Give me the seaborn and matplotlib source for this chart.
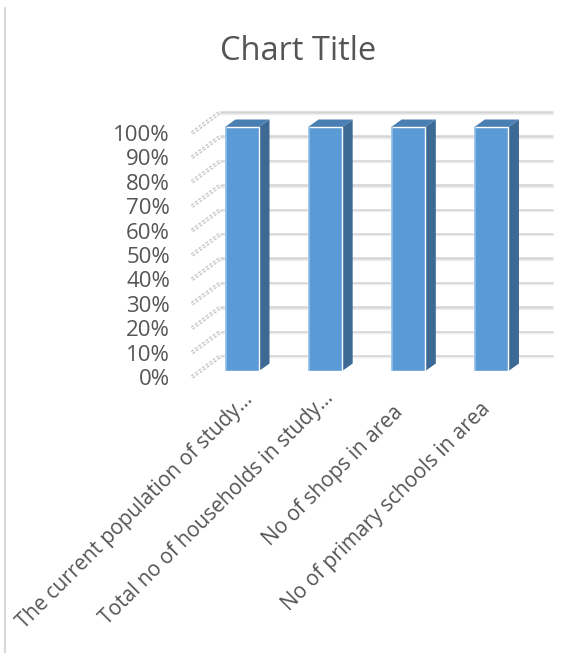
import numpy as np
import pandas as pd
import seaborn as sns
import matplotlib.pyplot as plt
from matplotlib.patches import Polygon
from matplotlib.lines import Line2D
from matplotlib.collections import LineCollection
from matplotlib.transforms import IdentityTransform, blended_transform_factory, offset_copy

# ---- data -------------------------------------------------------------
categories = [
    "The current population of study\u2026",
    "Total no of households in study\u2026",
    "No of shops in area",
    "No of primary schools in area",
]
values = [1.0, 1.0, 1.0, 1.0]
tick_values = [0.0, 0.1, 0.2, 0.3, 0.4, 0.5, 0.6, 0.7, 0.8, 0.9, 1.0]
tick_labels = ["0%", "10%", "20%", "30%", "40%", "50%", "60%", "70%", "80%", "90%", "100%"]
title = "Chart Title"

# ---- style ------------------------------------------------------------
sns.set_theme(style="white")
plt.rcParams["font.family"] = ["Open Sans", "DejaVu Sans"]
TEXT = "#555555"
FRONT = "#5B9BD5"
SIDE = "#3C6A94"
TOP = "#4A7FB4"
GRID = "#D4D4D4"

W, H = 586, 653
fig = plt.figure(figsize=(W / 100, H / 100), dpi=100)
fig.patch.set_facecolor("white")


def rect(left, top, right, bottom):
    return [left / W, 1 - bottom / H, (right - left) / W, (bottom - top) / H]


# plane of the column fronts, and the front edge of the floor
ax = fig.add_axes(rect(200.4, 127, 533, 371))
ax_front = fig.add_axes(rect(192, 133, 524.6, 377), zorder=-1)

# depth of the back wall and of each column, in pixels
WALL_DX, WALL_DY = 20.0, 15.0
COL_DX, COL_DY = 10.5, 7.5
# where each rotated category label ends, relative to its column (pixels)
LABEL_SHIFT = [(0, -18), (-2, -16), (-16, -31), (-11.5, -28)]

df = pd.DataFrame({"category": categories, "value": values})
sns.barplot(data=df, x="category", y="value", ax=ax, color=FRONT,
            saturation=1, width=0.41, zorder=3)
ax.set_xlim(-0.5, len(categories) - 0.5)
ax.set_ylim(0, 1)
ax.set_facecolor("none")
sns.despine(ax=ax, left=True, bottom=True)
ax.set_yticks([])
ax.set_xticks([])
ax.set_xlabel("")
ax.set_ylabel("")

# value axis lives on the floor's front edge
ax_front.set_xlim(-0.5, len(categories) - 0.5)
ax_front.set_ylim(0, 1)
ax_front.set_yticks(tick_values, tick_labels)
ax_front.set_xticks([])
ax_front.tick_params(axis="y", length=0, pad=15.8, labelsize=16, labelcolor=TEXT)
ax_front.set_facecolor("none")
for s in ax_front.spines.values():
    s.set_visible(False)

# back-wall gridlines
wall_t = offset_copy(blended_transform_factory(ax.transAxes, ax.transData),
                     fig, x=WALL_DX, y=WALL_DY, units="dots")
ax.hlines(tick_values, 0, 1, transform=wall_t, colors=GRID, lw=1.8,
          zorder=0, clip_on=False)
ax.hlines(tick_values, 0, 1, transform=offset_copy(wall_t, fig, y=-1.5, units="dots"),
          colors="#EDEDED", lw=1.0, zorder=0, clip_on=False)

# side-wall hatch: front floor edge up to the back wall
segs = []
for v in tick_values:
    x0, y0 = ax_front.transData.transform((-0.5, v))
    x1, y1 = ax.transData.transform((-0.5, v))
    x1 += WALL_DX
    y1 += WALL_DY
    segs.append([(x0, y0), (x1, y1)])
fig.add_artist(LineCollection(segs, transform=IdentityTransform(), colors="#C8C8C8",
                              linewidths=2.8, linestyles=[(0, (0.7, 0.45))], zorder=0))
fig.add_artist(LineCollection(segs, transform=IdentityTransform(), colors="white",
                              linewidths=0.7, zorder=0))

# 3-D faces of each column
px_x = ax.bbox.width / (len(categories))
px_y = ax.bbox.height / 1.0
dx, dy = COL_DX / px_x, COL_DY / px_y
for p in ax.patches:
    x0, w, h = p.get_x(), p.get_width(), p.get_height()
    side = Polygon([(x0 + w, 0), (x0 + w + dx, dy), (x0 + w + dx, h + dy), (x0 + w, h)],
                   closed=True, facecolor=SIDE, edgecolor="none", zorder=2, clip_on=False)
    top = Polygon([(x0, h), (x0 + w, h), (x0 + w + dx, h + dy), (x0 + dx, h + dy)],
                  closed=True, facecolor=TOP, edgecolor="none", zorder=2, clip_on=False)
    ax.add_patch(side)
    ax.add_patch(top)
    p.set_clip_on(False)
    ax.vlines(x0 + 0.01, 0, h, colors="#8DBBE8", lw=1.2, zorder=4)

# category labels, rotated and ending under each column
for i, cat in enumerate(categories):
    sx, sy = LABEL_SHIFT[i]
    ax.text(i, 0, cat, transform=offset_copy(ax.transData, fig, x=sx, y=sy, units="dots"),
            rotation=45, ha="right", va="top", rotation_mode="anchor",
            fontsize=15, color=TEXT, clip_on=False)

# title and the frame's left edge
fig.text(298 / W, 1 - 51 / H, title, ha="center", va="center",
         fontsize=23.5, color=TEXT)
fig.add_artist(Line2D([5 / W, 5 / W], [0, 1 - 8 / H], transform=fig.transFigure,
                      color="#D9D9D9", lw=1.5))

fig.savefig("out.png", dpi=100)
